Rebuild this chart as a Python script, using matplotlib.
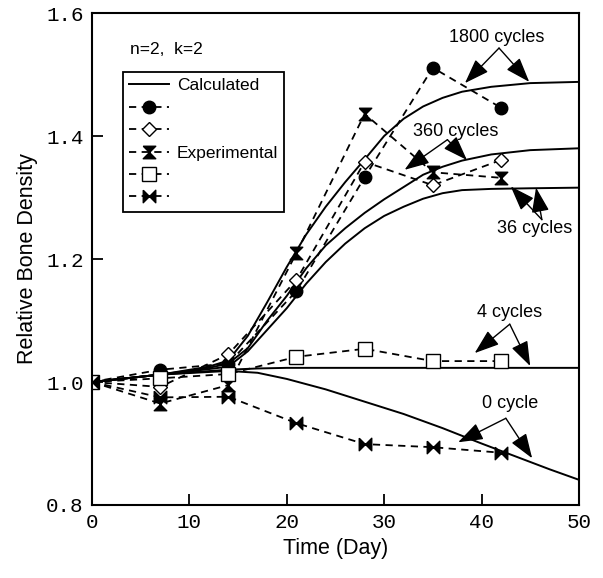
import numpy as np
import matplotlib.pyplot as plt
from matplotlib.lines import Line2D

# measured points (day)
days = [0, 7, 14, 21, 28, 35, 42]
exp_1800 = [1.0, 1.020, 1.030, 1.148, 1.333, 1.511, 1.446]
exp_360 = [1.0, 0.992, 1.045, 1.166, 1.358, 1.320, 1.361]
exp_36 = [1.0, 0.965, 0.995, 1.210, 1.436, 1.341, 1.332]
exp_4 = [1.0, 1.006, 1.013, 1.041, 1.054, 1.034, 1.034]
exp_0 = [1.0, 0.975, 0.976, 0.933, 0.899, 0.894, 0.885]

# calculated curves
calc_days = [0, 7, 12, 14, 16, 18, 20, 22, 24, 26, 28, 30, 32, 34, 36, 38, 41, 45, 50]
calc_1800 = [1.0, 1.012, 1.025, 1.035, 1.075, 1.130, 1.187, 1.240, 1.285, 1.325, 1.362,
             1.400, 1.428, 1.448, 1.462, 1.472, 1.480, 1.486, 1.488]
calc_360 = [1.0, 1.012, 1.023, 1.030, 1.055, 1.100, 1.140, 1.185, 1.222, 1.250, 1.275,
            1.297, 1.317, 1.337, 1.350, 1.360, 1.370, 1.377, 1.380]
calc_36 = [1.0, 1.012, 1.021, 1.025, 1.050, 1.085, 1.120, 1.160, 1.195, 1.225, 1.250,
           1.270, 1.285, 1.298, 1.307, 1.312, 1.314, 1.315, 1.316]
calc_4_days = [0, 7, 14, 17, 20, 30, 40, 50]
calc_4 = [1.0, 1.012, 1.020, 1.022, 1.023, 1.023, 1.023, 1.023]
calc_0_days = [0, 7, 14, 17, 20, 24, 28, 32, 36, 40, 44, 47, 50]
calc_0 = [1.0, 1.012, 1.018, 1.015, 1.005, 0.988, 0.968, 0.948, 0.925, 0.900, 0.876, 0.858, 0.841]

hourglass = [(-1, 1), (1, 1), (-1, -1), (1, -1), (-1, 1)]
bowtie = [(-1, 1), (-1, -1), (1, 1), (1, -1), (-1, 1)]

sans = ['Liberation Sans', 'DejaVu Sans']
mono = ['Liberation Mono', 'DejaVu Sans Mono']

fig = plt.figure(figsize=(6.03, 5.78), dpi=100)
ax = fig.add_axes([0.1526, 0.1263, 0.8074, 0.8512])

for y in [calc_1800, calc_360, calc_36]:
    ax.plot(calc_days, y, color='black', lw=1.4)
ax.plot(calc_4_days, calc_4, color='black', lw=1.4)
ax.plot(calc_0_days, calc_0, color='black', lw=1.4)

dash = (4, 3)
styles = [
    (exp_1800, 'o', 'black', 9),
    (exp_360, 'D', 'white', 7.5),
    (exp_36, hourglass, 'black', 9),
    (exp_4, 's', 'white', 10),
    (exp_0, bowtie, 'black', 9),
]
handles = [Line2D([], [], color='black', lw=1.4)]
for y, m, fc, ms in styles:
    ax.plot(days, y, color='black', lw=1.3, dashes=dash, marker=m, ms=ms,
            mfc=fc, mec='black', mew=1.0)
    handles.append(Line2D([], [], color='black', lw=1.3, dashes=dash, marker=m, ms=ms,
                          mfc=fc, mec='black', mew=1.0))

labels = ['Calculated', ' ', ' ', 'Experimental', ' ', ' ']
leg = ax.legend(handles, labels, loc='upper left', bbox_to_anchor=(0.064, 0.880),
                borderaxespad=0, fancybox=False, framealpha=1, edgecolor='black',
                handlelength=2.3, handletextpad=0.45, labelspacing=0.42,
                borderpad=0.35, prop={'family': sans, 'size': 12.5})
leg.get_frame().set_linewidth(1.3)

ax.text(3.9, 1.54, 'n=2,  k=2', fontsize=12.5, family=sans, va='center')

arrow = dict(arrowstyle='-|>,head_length=0.9,head_width=0.32', color='black', lw=1.0,
             mutation_scale=17, shrinkA=0, shrinkB=0)
notes = [
    ('1800 cycles', (41.6, 1.560), (41.8, 1.543), [(38.3, 1.486), (44.9, 1.488)]),
    ('360 cycles', (37.3, 1.408), (36.5, 1.394), [(32.1, 1.345), (38.5, 1.361)]),
    ('36 cycles', (45.5, 1.250), (46.2, 1.264), [(43.0, 1.318), (45.6, 1.316)]),
    ('4 cycles', (42.9, 1.113), (42.9, 1.094), [(39.3, 1.047), (45.0, 1.026)]),
    ('0 cycle', (42.9, 0.965), (42.5, 0.941), [(37.6, 0.902), (45.2, 0.876)]),
]
for txt, tpos, apex, tips in notes:
    ax.text(tpos[0], tpos[1], txt, fontsize=13, family=sans, ha='center', va='center')
    for tip in tips:
        ax.annotate('', xy=tip, xytext=apex, arrowprops=arrow)

ax.set_xlim(0, 50)
ax.set_ylim(0.8, 1.6)
ax.set_xticks([0, 10, 20, 30, 40, 50])
ax.set_yticks([0.8, 1.0, 1.2, 1.4, 1.6])
ax.set_yticklabels(['0.8', '1.0', '1.2', '1.4', '1.6'])
ax.tick_params(direction='in', length=8, width=1.3, labelsize=15, pad=6)
for lab in ax.get_xticklabels() + ax.get_yticklabels():
    lab.set_family(mono)
for s in ax.spines.values():
    s.set_linewidth(1.5)

ax.set_xlabel('Time (Day)', fontsize=15.5, family=sans, labelpad=4)
ax.set_ylabel('Relative Bone Density', fontsize=15.5, family=sans, labelpad=6)

fig.savefig('out.png', dpi=100)
